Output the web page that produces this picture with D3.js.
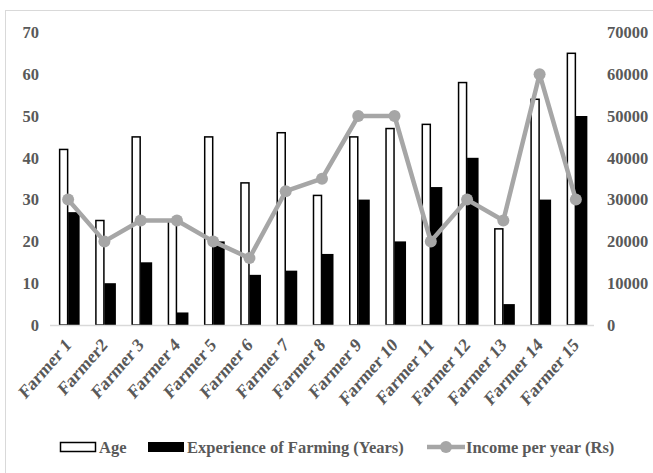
<!DOCTYPE html>
<html><head><meta charset="utf-8">
<script src="https://cdn.jsdelivr.net/npm/d3@7"></script>
<style>body{margin:0;background:#fff}svg{display:block}text{font-family:"Liberation Serif","Times New Roman",serif;font-weight:bold;fill:#595959}</style>
</head><body><svg id="c" width="653" height="473"></svg>
<script>
const categories = ["Farmer 1","Farmer2","Farmer 3","Farmer 4","Farmer 5","Farmer 6","Farmer 7","Farmer 8","Farmer 9","Farmer 10","Farmer 11","Farmer 12","Farmer 13","Farmer 14","Farmer 15"];
const age = [42,25,45,25,45,34,46,31,45,47,48,58,23,54,65];
const experience = [27,10,15,3,20,12,13,17,30,20,33,40,5,30,50];
const income = [30000,20000,25000,25000,20000,16000,32000,35000,50000,50000,20000,30000,25000,60000,30000];
const leftTicks = [0,10,20,30,40,50,60,70];
const rightTicks = [0,10000,20000,30000,40000,50000,60000,70000];

const svg = d3.select("#c");
svg.append("rect").attr("x",5.5).attr("y",10.5).attr("width",700).attr("height",500).attr("fill","#fff").attr("stroke","#d9d9d9");

const x = d3.scaleBand().domain(categories).range([50,594]);
const yL = d3.scaleLinear().domain([0,70]).range([325,32.4]);
const yR = d3.scaleLinear().domain([0,70000]).range([325,32.4]);
const c = d => x(d) + x.bandwidth()/2;

// axes
const axL = svg.append("g").attr("transform","translate(39,0)").call(d3.axisLeft(yL).tickValues(leftTicks).tickSize(0).tickPadding(0));
axL.select(".domain").remove();
const axR = svg.append("g").attr("transform","translate(607,0)").call(d3.axisRight(yR).tickValues(rightTicks).tickSize(0).tickPadding(0).tickFormat(d3.format("d")));
axR.select(".domain").remove();
svg.selectAll(".tick text").attr("font-size",16.5).style("fill","#595959");

// bars
svg.append("g").selectAll("rect").data(categories).join("rect")
  .attr("x",(d)=>c(d)-8.5).attr("width",8)
  .attr("y",(d,i)=>yL(age[i])).attr("height",(d,i)=>yL(0)-yL(age[i]))
  .attr("fill","#fff").attr("stroke","#000").attr("stroke-width",1.5);
svg.append("g").selectAll("rect").data(categories).join("rect")
  .attr("x",(d)=>c(d)).attr("width",11.5)
  .attr("y",(d,i)=>yL(experience[i])).attr("height",(d,i)=>yL(0)-yL(experience[i]))
  .attr("fill","#000");

// baseline
svg.append("line").attr("x1",50).attr("x2",594).attr("y1",325.5).attr("y2",325.5).attr("stroke","#d9d9d9").attr("stroke-width",1.5);

// line
const line = d3.line().x((d,i)=>c(categories[i])).y(d=>yR(d));
svg.append("path").datum(income).attr("d",line).attr("fill","none").attr("stroke","#a6a6a6").attr("stroke-width",4.5).attr("stroke-linejoin","round");
svg.append("g").selectAll("circle").data(income).join("circle")
  .attr("cx",(d,i)=>c(categories[i])).attr("cy",d=>yR(d)).attr("r",6).attr("fill","#a6a6a6");

// category labels
svg.append("g").selectAll("text").data(categories).join("text")
  .attr("transform",d=>`translate(${c(d)+4},346) scale(1,1.15) rotate(-45)`)
  .attr("text-anchor","end").attr("font-size",16.5).text(d=>d);

// legend
const lg = svg.append("g");
lg.append("rect").attr("x",60.5).attr("y",442.5).attr("width",35).attr("height",9).attr("fill","#fff").attr("stroke","#000").attr("stroke-width",1.5);
lg.append("text").attr("x",99).attr("y",453).attr("font-size",16.5).text("Age");
lg.append("rect").attr("x",148).attr("y",442).attr("width",36).attr("height",10).attr("fill","#000");
lg.append("text").attr("x",187).attr("y",453).attr("font-size",16.5).text("Experience of Farming (Years)");
lg.append("line").attr("x1",427).attr("x2",465).attr("y1",447).attr("y2",447).attr("stroke","#a6a6a6").attr("stroke-width",4.5);
lg.append("circle").attr("cx",446).attr("cy",447).attr("r",6).attr("fill","#a6a6a6");
lg.append("text").attr("x",466).attr("y",453).attr("font-size",16.5).text("Income per year (Rs)");
</script></body></html>
